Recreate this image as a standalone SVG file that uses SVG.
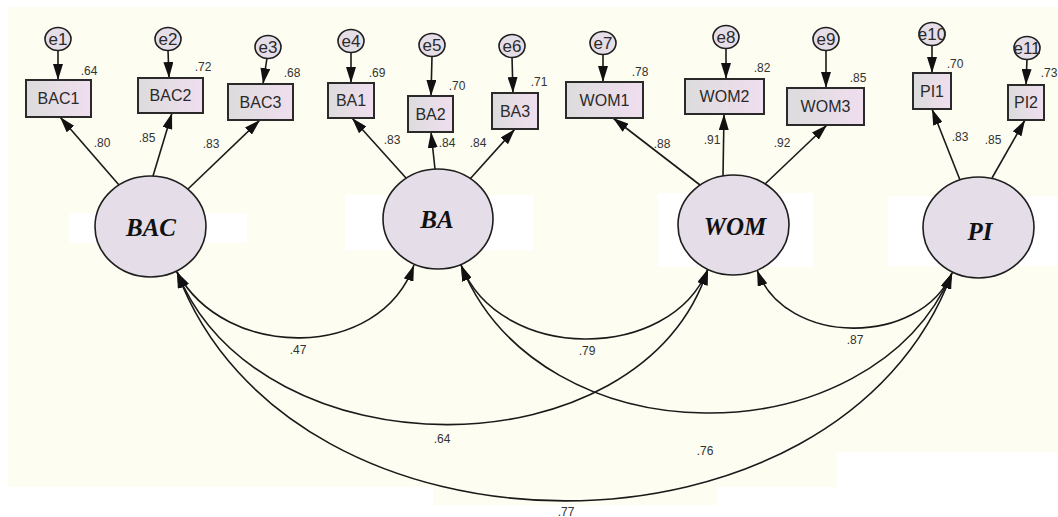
<svg xmlns="http://www.w3.org/2000/svg" width="1058" height="517" viewBox="0 0 1058 517">
<style>
.bg{fill:#fdfdf1}
.wh{fill:#ffffff}
.box{fill:url(#boxg);stroke:#2a2a2a;stroke-width:2}
.lat{fill:#e5dde7;stroke:#1e1e1e;stroke-width:1.6}
.err{fill:#e5dde7;stroke:#1e1e1e;stroke-width:1.6}
.ln{fill:none;stroke:#1a1a1a;stroke-width:1.6}
.bt{font-family:"Liberation Sans",Arial,sans-serif;font-size:16px;fill:#2a2a2a;text-anchor:middle}
.et{font-family:"Liberation Sans",Arial,sans-serif;font-size:17px;fill:#2a2a2a;text-anchor:middle}
.ct{font-family:"Liberation Sans",Arial,sans-serif;font-size:12px;fill:#333;text-anchor:middle}
.lt{font-family:"Liberation Serif","Times New Roman",serif;font-size:25px;font-weight:bold;font-style:italic;fill:#111;text-anchor:middle}
</style>
<defs>
<linearGradient id="boxg" x1="0" y1="0" x2="1" y2="0">
<stop offset="0" stop-color="#dcdcdc"/>
<stop offset="1" stop-color="#f0deef"/>
</linearGradient>
<marker id="ah" viewBox="0 0 16 10" refX="16" refY="5" markerUnits="userSpaceOnUse" markerWidth="16" markerHeight="10" orient="auto-start-reverse">
<path d="M0,0 L16,5 L0,10 z" fill="#111"/>
</marker>
</defs>
<rect x="0" y="0" width="1058" height="517" class="wh"/>
<g id="background">
<rect x="8" y="7" width="1050" height="445" class="bg"/>
<rect x="8" y="450" width="829" height="37" class="bg"/>
<rect x="433" y="485" width="284" height="20" class="bg"/>
<rect x="70" y="213" width="177" height="30" class="wh"/>
<rect x="345" y="195" width="188" height="55" class="wh"/>
<rect x="658" y="193" width="155" height="74" class="wh"/>
<rect x="888" y="196" width="170" height="70" class="wh"/>
</g>
<g id="connectors">
<line class="ln" x1="58" y1="50" x2="58" y2="80" marker-end="url(#ah)"/>
<line class="ln" x1="168" y1="50" x2="169" y2="78" marker-end="url(#ah)"/>
<line class="ln" x1="267" y1="58" x2="263" y2="84" marker-end="url(#ah)"/>
<line class="ln" x1="351" y1="52" x2="351" y2="83" marker-end="url(#ah)"/>
<line class="ln" x1="432" y1="56" x2="431" y2="96" marker-end="url(#ah)"/>
<line class="ln" x1="512" y1="57" x2="513" y2="93" marker-end="url(#ah)"/>
<line class="ln" x1="603" y1="54" x2="603" y2="82" marker-end="url(#ah)"/>
<line class="ln" x1="726" y1="48" x2="726" y2="79" marker-end="url(#ah)"/>
<line class="ln" x1="826" y1="50" x2="826" y2="88" marker-end="url(#ah)"/>
<line class="ln" x1="932" y1="45" x2="932" y2="73" marker-end="url(#ah)"/>
<line class="ln" x1="1027" y1="59" x2="1026" y2="85" marker-end="url(#ah)"/>
<line class="ln" x1="119" y1="185" x2="60" y2="117" marker-end="url(#ah)"/>
<line class="ln" x1="153" y1="176" x2="172" y2="113" marker-end="url(#ah)"/>
<line class="ln" x1="188" y1="189" x2="260" y2="120" marker-end="url(#ah)"/>
<line class="ln" x1="406" y1="178" x2="352" y2="118" marker-end="url(#ah)"/>
<line class="ln" x1="435" y1="169" x2="431" y2="132" marker-end="url(#ah)"/>
<line class="ln" x1="470" y1="179" x2="515" y2="129" marker-end="url(#ah)"/>
<line class="ln" x1="700" y1="185" x2="613" y2="118" marker-end="url(#ah)"/>
<line class="ln" x1="723" y1="176" x2="724" y2="114" marker-end="url(#ah)"/>
<line class="ln" x1="765" y1="184" x2="827" y2="125" marker-end="url(#ah)"/>
<line class="ln" x1="960" y1="180" x2="932" y2="109" marker-end="url(#ah)"/>
<line class="ln" x1="992" y1="178" x2="1025" y2="120" marker-end="url(#ah)"/>
<path class="ln" d="M177,272 C225,361 380,361 414,265" marker-start="url(#ah)" marker-end="url(#ah)"/>
<path class="ln" d="M461,265 C500,363 670,363 708,269" marker-start="url(#ah)" marker-end="url(#ah)"/>
<path class="ln" d="M757,270 C785,347 920,347 952,273" marker-start="url(#ah)" marker-end="url(#ah)"/>
<path class="ln" d="M177,272 C260,476 640,476 708,269" marker-start="url(#ah)" marker-end="url(#ah)"/>
<path class="ln" d="M461,265 C540,461 870,461 952,273" marker-start="url(#ah)" marker-end="url(#ah)"/>
<path class="ln" d="M177,272 C290,577 840,577 952,273" marker-start="url(#ah)" marker-end="url(#ah)"/>
<text class="ct" x="102" y="147">.80</text>
<text class="ct" x="147" y="142">.85</text>
<text class="ct" x="211" y="148">.83</text>
<text class="ct" x="392" y="144">.83</text>
<text class="ct" x="447" y="147">.84</text>
<text class="ct" x="478" y="147">.84</text>
<text class="ct" x="662" y="148">.88</text>
<text class="ct" x="712" y="144">.91</text>
<text class="ct" x="782" y="147">.92</text>
<text class="ct" x="960" y="141">.83</text>
<text class="ct" x="993" y="144">.85</text>
<text class="ct" x="298" y="354">.47</text>
<text class="ct" x="587" y="355">.79</text>
<text class="ct" x="855" y="344">.87</text>
<text class="ct" x="442" y="443">.64</text>
<text class="ct" x="705" y="455">.76</text>
<text class="ct" x="566" y="516">.77</text>
</g>
<g id="e1"><ellipse class="err" cx="58" cy="39" rx="13" ry="11.5"/><text class="et" x="58" y="45">e1</text></g>
<g id="e2"><ellipse class="err" cx="168" cy="39" rx="13" ry="11.5"/><text class="et" x="168" y="45">e2</text></g>
<g id="e3"><ellipse class="err" cx="268" cy="47" rx="13" ry="11.5"/><text class="et" x="268" y="53">e3</text></g>
<g id="e4"><ellipse class="err" cx="351" cy="41" rx="13" ry="11.5"/><text class="et" x="351" y="47">e4</text></g>
<g id="e5"><ellipse class="err" cx="432" cy="45" rx="13" ry="11.5"/><text class="et" x="432" y="51">e5</text></g>
<g id="e6"><ellipse class="err" cx="512" cy="46" rx="13" ry="11.5"/><text class="et" x="512" y="52">e6</text></g>
<g id="e7"><ellipse class="err" cx="603" cy="43" rx="13" ry="11.5"/><text class="et" x="603" y="49">e7</text></g>
<g id="e8"><ellipse class="err" cx="726" cy="37" rx="13" ry="11.5"/><text class="et" x="726" y="43">e8</text></g>
<g id="e9"><ellipse class="err" cx="826" cy="39" rx="13" ry="11.5"/><text class="et" x="826" y="45">e9</text></g>
<g id="e10"><ellipse class="err" cx="932" cy="34" rx="13" ry="11.5"/><text class="et" x="932" y="40">e10</text></g>
<g id="e11"><ellipse class="err" cx="1027" cy="48" rx="13" ry="11.5"/><text class="et" x="1027" y="54">e11</text></g>
<g id="BAC1"><rect class="box" x="26" y="80" width="65" height="37"/><text class="bt" x="58.5" y="104">BAC1</text><text class="ct" x="89" y="75">.64</text></g>
<g id="BAC2"><rect class="box" x="138" y="78" width="65" height="35"/><text class="bt" x="170.5" y="101">BAC2</text><text class="ct" x="203" y="71">.72</text></g>
<g id="BAC3"><rect class="box" x="228" y="84" width="65" height="36"/><text class="bt" x="260.5" y="108">BAC3</text><text class="ct" x="292" y="77">.68</text></g>
<g id="BA1"><rect class="box" x="328" y="83" width="46" height="35"/><text class="bt" x="351" y="106">BA1</text><text class="ct" x="377" y="77">.69</text></g>
<g id="BA2"><rect class="box" x="408" y="96" width="45" height="36"/><text class="bt" x="430.5" y="120">BA2</text><text class="ct" x="457" y="90">.70</text></g>
<g id="BA3"><rect class="box" x="492" y="93" width="46" height="36"/><text class="bt" x="515" y="117">BA3</text><text class="ct" x="539" y="86">.71</text></g>
<g id="WOM1"><rect class="box" x="566" y="82" width="77" height="36"/><text class="bt" x="604.5" y="106">WOM1</text><text class="ct" x="640" y="76">.78</text></g>
<g id="WOM2"><rect class="box" x="685" y="79" width="79" height="35"/><text class="bt" x="724.5" y="102">WOM2</text><text class="ct" x="762" y="72">.82</text></g>
<g id="WOM3"><rect class="box" x="787" y="88" width="77" height="37"/><text class="bt" x="825.5" y="112">WOM3</text><text class="ct" x="858" y="82">.85</text></g>
<g id="PI1"><rect class="box" x="913" y="73" width="38" height="36"/><text class="bt" x="932" y="97">PI1</text><text class="ct" x="955" y="68">.70</text></g>
<g id="PI2"><rect class="box" x="1008" y="85" width="36" height="35"/><text class="bt" x="1026" y="108">PI2</text><text class="ct" x="1049" y="77">.73</text></g>
<g id="BAC"><ellipse class="lat" cx="150.5" cy="226.5" rx="55.5" ry="50.5"/><text class="lt" x="151" y="236">BAC</text></g>
<g id="BA"><ellipse class="lat" cx="438" cy="219" rx="55" ry="50"/><text class="lt" x="437" y="228">BA</text></g>
<g id="WOM"><ellipse class="lat" cx="733.5" cy="225" rx="55.5" ry="50"/><text class="lt" x="735" y="235">WOM</text></g>
<g id="PI"><ellipse class="lat" cx="978.5" cy="227.5" rx="55.5" ry="50.5"/><text class="lt" x="980" y="240">PI</text></g>
</svg>
